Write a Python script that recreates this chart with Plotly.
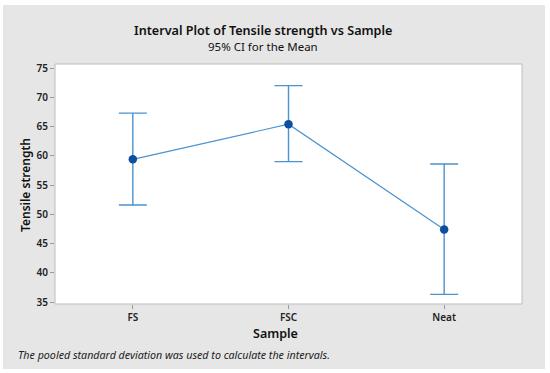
import plotly.graph_objects as go

categories = ["FS", "FSC", "Neat"]
means = [59.4, 65.4, 47.4]
upper = [67.3, 72.0, 58.6]
lower = [51.6, 59.0, 36.3]
y_ticks = [35, 40, 45, 50, 55, 60, 65, 70, 75]

W, H = 550, 373
L, R, T, B = 55, 522, 64, 304
pw, ph = R - L, B - T

def px(x):
    return (x - L) / pw

def py(y):
    return (B - y) / ph

FONT = "Noto Sans"
fig = go.Figure()
fig.add_trace(go.Scatter(
    x=categories, y=means, mode="lines+markers",
    line=dict(color="#4a93cf", width=1.2),
    marker=dict(color="#0b4f9e", size=8.5),
    error_y=dict(type="data", symmetric=False,
                 array=[u - m for u, m in zip(upper, means)],
                 arrayminus=[m - l for m, l in zip(means, lower)],
                 color="#4a93cf", thickness=1.4, width=14),
    showlegend=False, hoverinfo="skip",
))

tickfont = dict(size=10, color="#222222", weight=600)
fig.update_layout(
    width=W, height=H,
    margin=dict(l=L, r=W - R, t=T, b=H - B, pad=0),
    paper_bgcolor="white", plot_bgcolor="white",
    font=dict(family=FONT, color="#222222"),
    xaxis=dict(type="category", range=[-0.5, 2.5], showgrid=False, zeroline=False,
               ticks="outside", ticklen=4, tickcolor="#9a9a9a", showline=False,
               tickfont=tickfont),
    yaxis=dict(range=[34.66, 75.7], tickvals=y_ticks, showgrid=False, zeroline=False,
               ticks="outside", ticklen=4, tickcolor="#9a9a9a", showline=False,
               tickfont=tickfont),
    shapes=[
        dict(type="rect", xref="paper", yref="paper", layer="below",
             x0=px(3), x1=px(545), y0=py(369), y1=py(5),
             fillcolor="#e6e6e6", line=dict(width=0)),
        dict(type="rect", xref="paper", yref="paper", layer="below",
             x0=0, x1=1, y0=0, y1=1,
             fillcolor="white", line=dict(color="#bdbdbd", width=1)),
    ],
    annotations=[
        dict(text="Interval Plot of Tensile strength vs Sample", xref="paper", yref="paper",
             x=px(263), y=py(30), showarrow=False, xanchor="center", yanchor="middle",
             font=dict(size=12.6, color="#111111", weight=600)),
        dict(text="95% CI for the Mean", xref="paper", yref="paper",
             x=px(263), y=py(46), showarrow=False, xanchor="center", yanchor="middle",
             font=dict(size=11.5, color="#111111")),
        dict(text="Sample", xref="paper", yref="paper",
             x=px(275), y=py(333), showarrow=False, xanchor="center", yanchor="middle",
             font=dict(size=12.5, color="#111111", weight=600)),
        dict(text="Tensile strength", xref="paper", yref="paper", textangle=-90,
             x=px(25), y=py(185), showarrow=False, xanchor="center", yanchor="middle",
             font=dict(size=12, color="#111111", weight=600)),
        dict(text="<i>The pooled standard deviation was used to calculate the intervals.</i>",
             xref="paper", yref="paper",
             x=px(16), y=py(355), showarrow=False, xanchor="left", yanchor="middle",
             font=dict(size=10.7, color="#222222")),
    ],
)

fig.write_html("out.html", config={"displayModeBar": False},
               post_script="document.body.style.margin='0';")
